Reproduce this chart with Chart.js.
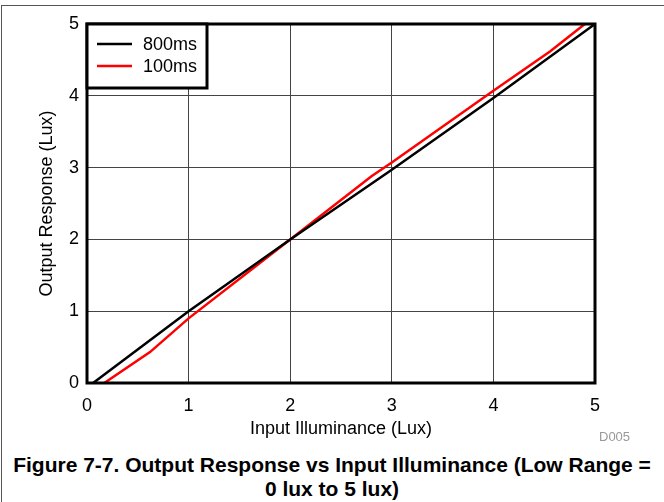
<!DOCTYPE html>
<html>
<head>
<meta charset="utf-8">
<script src="https://cdn.jsdelivr.net/npm/chart.js@4.4.1/dist/chart.umd.min.js"></script>
<style>
  body { margin: 0; background: #fff; font-family: "Liberation Sans", Arial, sans-serif; }
  #wrap { position: relative; width: 664px; height: 502px; overflow: hidden; }
  #frame { position: absolute; left: 1px; top: 5px; width: 680px; height: 520px; border-top: 1px solid #555; border-left: 1px solid #555; }
  #chartbox { position: absolute; left: 0; top: 0; width: 664px; height: 440px; }
  #code { position: absolute; left: 599px; top: 429px; font-size: 13px; color: #999; }
  #caption { position: absolute; left: 0; top: 453px; width: 664px; text-align: center; font-weight: bold; font-size: 21px; line-height: 24px; color: #000; }
</style>
</head>
<body>
<div id="wrap">
  <div id="frame"></div>
  <div id="chartbox"><canvas id="chart" width="664" height="440"></canvas></div>
  <div id="code">D005</div>
  <div id="caption">Figure 7-7. Output Response vs Input Illuminance (Low Range =<br>0 lux to 5 lux)</div>
</div>
<script>
// values
var x800 = [0.06, 1, 2, 3, 4, 5];
var y800 = [0, 1, 2, 2.97, 3.97, 5];
var x100 = [0.17, 0.62, 1, 2, 2.8, 3, 4, 4.56, 4.9];
var y100 = [0, 0.43, 0.9, 2, 2.88, 3.07, 4.07, 4.62, 5];
var ticksX = [0, 1, 2, 3, 4, 5];
var ticksY = [0, 1, 2, 3, 4, 5];

var FONT = '"Liberation Sans", Arial, sans-serif';

function pts(xs, ys) {
  return xs.map(function (x, i) { return {x: x, y: ys[i]}; });
}

// thick box around the plot + legend drawn inside the plot
var frameAndLegend = {
  id: 'frameAndLegend',
  afterDatasetsDraw: function (chart) {
    var ctx = chart.ctx, a = chart.chartArea;
    ctx.save();
    ctx.strokeStyle = '#000';
    ctx.lineWidth = 3;
    ctx.strokeRect(a.left, a.top, a.right - a.left, a.bottom - a.top);

    var bx = a.left, by = a.top, bw = 120, bh = 64;
    ctx.fillStyle = '#fff';
    ctx.fillRect(bx, by, bw, bh);
    ctx.strokeRect(bx, by, bw, bh);
    ctx.font = '18px ' + FONT;
    ctx.textBaseline = 'middle';
    chart.data.datasets.forEach(function (ds, i) {
      var yy = by + 20 + i * 22;
      ctx.strokeStyle = ds.borderColor;
      ctx.lineWidth = 2.5;
      ctx.beginPath();
      ctx.moveTo(bx + 10, yy);
      ctx.lineTo(bx + 45, yy);
      ctx.stroke();
      ctx.fillStyle = '#000';
      ctx.fillText(ds.label, bx + 56, yy + 1);
    });
    ctx.restore();
  }
};

var ctx = document.getElementById('chart').getContext('2d');
var myChart = new Chart(ctx, {
  type: 'scatter',
  data: {
    datasets: [
      {
        label: '800ms',
        data: pts(x800, y800),
        borderColor: '#000000',
        borderWidth: 2.5,
        showLine: true,
        pointRadius: 0
      },
      {
        label: '100ms',
        data: pts(x100, y100),
        borderColor: '#ff0000',
        borderWidth: 2.5,
        showLine: true,
        pointRadius: 0
      }
    ]
  },
  options: {
    responsive: false,
    animation: false,
    layout: { padding: { left: 36, right: 69, top: 24, bottom: 0 } },
    plugins: { legend: { display: false }, tooltip: { enabled: false } },
    scales: {
      x: {
        type: 'linear',
        min: 0, max: 5,
        afterBuildTicks: function (s) { s.ticks = ticksX.map(function (v) { return {value: v}; }); },
        grid: { color: '#444', lineWidth: 1, drawTicks: false },
        border: { display: false },
        ticks: { color: '#000', padding: 12, font: { size: 18, family: FONT } },
        title: { display: true, text: 'Input Illuminance (Lux)', color: '#000', padding: { top: -4, bottom: 0 },
                 font: { size: 18, family: FONT } },
        afterFit: function (s) { s.height = 57; }
      },
      y: {
        type: 'linear',
        min: 0, max: 5,
        afterBuildTicks: function (s) { s.ticks = ticksY.map(function (v) { return {value: v}; }); },
        grid: { color: '#444', lineWidth: 1, drawTicks: false },
        border: { display: false },
        ticks: { color: '#000', padding: 8, font: { size: 18, family: FONT } },
        title: { display: true, text: 'Output Response (Lux)', color: '#000', padding: { top: 0, bottom: 0 },
                 font: { size: 18, family: FONT } },
        afterFit: function (s) { s.width = 51; }
      }
    }
  },
  plugins: [frameAndLegend]
});
</script>
</body>
</html>
